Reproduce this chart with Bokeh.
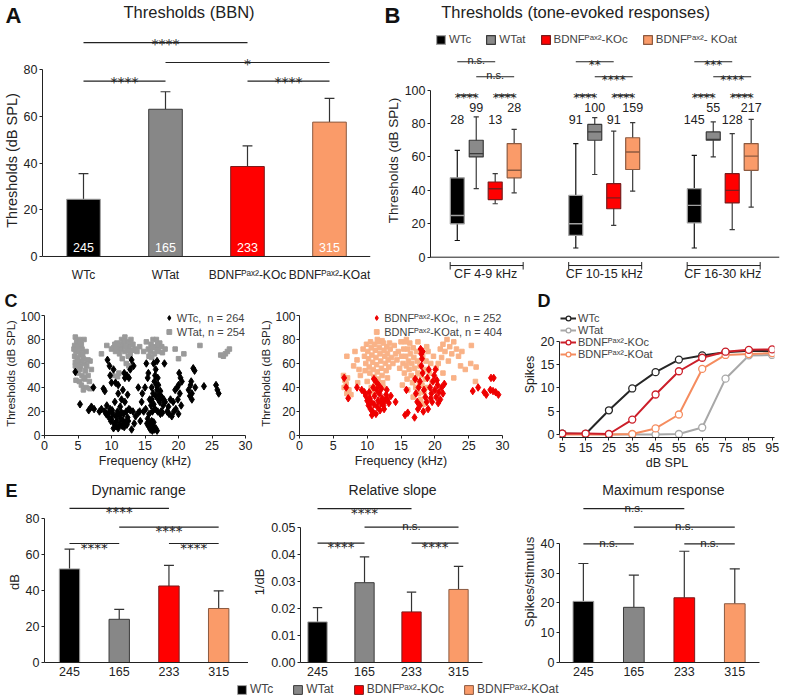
from bokeh.plotting import figure
from bokeh.layouts import column, row
from bokeh.models import (Range1d, FixedTicker, Legend, LegendItem, NumeralTickFormatter)
from bokeh.core.properties import value
from bokeh.embed import file_html
from bokeh.resources import INLINE

FONT = "Liberation Sans"
STAR_FONT = "DejaVu Sans"
SUP = "\u1d3e\u1d43\u02e3\u00b2"

# ---------------- data ----------------
groups = ["WTc", "WTat", "BDNF" + SUP + "-KOc", "BDNF" + SUP + "-KOat"]
group_colors = ["#000000", "#878787", "#ff0000", "#fa9b69"]
edge_colors = ["#a0a0a0", "#3a3a3a", "#7a1c1c", "#8c5a40"]
n_units = [245, 165, 233, 315]
sig_pairs = [(0, 2), (1, 3), (0, 1), (2, 3)]

# A: BBN thresholds
bbn_mean = [24.5, 63.0, 38.5, 57.5]
bbn_err = [35.5, 70.5, 47.3, 67.7]
bbn_sig = ["****", "*", "****", "****"]

# B: tone-evoked thresholds (box plots)
cf_bands = ["CF 4-9 kHz", "CF 10-15 kHz", "CF 16-30 kHz"]
box_low = [[10, 41, 32, 38.5], [5.5, 49.5, 19, 39.5], [5.5, 60, 16.5, 30]]
box_q1 = [[20, 60, 34.5, 47.5], [13, 70, 29, 52.5], [20.5, 70, 32.5, 52]]
box_med = [[25, 62, 41, 52], [20, 75, 35.5, 63], [31, 70.5, 40, 60.5]]
box_q3 = [[47.5, 70, 45, 68], [37, 79.5, 44, 71.5], [41, 75, 50, 68]]
box_high = [[64, 84, 50, 76.5], [68, 83.5, 75.5, 80.5], [61, 81, 74, 82.5]]
box_n = [[28, 99, 13, 28], [91, 100, 91, 159], [145, 55, 128, 217]]
box_sig = [["n.s.", "n.s.", "****", "****"],
           ["**", "****", "****", "****"],
           ["***", "****", "****", "****"]]

# C: threshold vs CF scatter (freq kHz, threshold dB SPL)
wtat_pts = [(4.6,82),(4.8,78),(5.2,80),(4.5,75),(5.0,74),(5.5,76),(4.7,70),(5.1,70),(5.6,72),(4.5,66),
            (4.9,65),(5.4,67),(5.8,64),(4.6,61),(5.0,60),(5.5,62),(6.0,60),(4.8,56),(5.3,55),(6.3,58),
            (6.8,62),(5.0,52),(5.6,50),(6.5,50),(4.7,46),(5.2,45),(6.0,47),(5.5,42),(6.2,40),(6.8,39),
            (5.8,38),(6.2,70),(5.9,80),(6.5,63),(7.0,55),(4.4,72),(4.6,58),(5.3,78),(5.7,68),(6.1,54),
            (6.7,45),(5.9,48),(4.9,62),(5.4,58),
            (8.5,68),(9.3,75),(10.0,72),(10.3,73),(10.8,77),(11.0,72),(11.5,80),(11.8,75),(12.0,70),(12.3,78),
            (12.6,73),(12.9,80),(13.2,76),(11.2,68),(12.0,82),(12.5,66),(13.5,72),(11.6,64),(12.8,68),(10.6,70),
            (13.8,70),(14.2,74),(12.2,60),(13.0,58),(10.2,50),(11.3,76),(11.9,78),(12.4,71),(10.9,74),(12.7,77),
            (13.1,71),(11.4,72),(12.1,74),(10.5,76),(11.1,52),(10.9,49),(12.6,58),
            (15.5,72),(15.9,76),(16.2,80),(16.5,74),(16.8,72),(17.2,77),(15.8,70),(16.4,68),(17.0,70),(17.5,74),
            (16.0,65),(18.0,72),(14.8,70),(15.2,78),(16.7,80),(16.1,73),(16.9,76),(15.6,66),(17.6,69),
            (19.5,72),(20.0,64),(20.8,68),(23.2,75),(26.3,67),(26.7,66),(27.0,68),(27.3,70),(27.6,72)]
wtc_pts = [(4.6,53),(5.3,26),(6.6,21),(7.0,24),(7.4,22),(7.3,40),(8.2,20),(8.8,39),(8.5,22),(9.0,20),
           (9.2,18),(9.5,16),(9.8,22),(9.3,25),(10.0,14),(10.2,18),(10.4,10),(10.6,8),(10.8,12),(11.0,6),
           (11.2,9),(11.4,14),(11.6,8),(11.8,18),(12.0,11),(12.2,20),(12.4,15),(12.6,22),(13.0,5),(13.2,20),
           (13.6,16),(10.9,20),(11.3,24),(9.6,19),(10.5,28),(11.5,19),(12.8,21),(10.1,21),(10.7,16),(11.1,17),
           (11.7,12),(12.3,9),(9.9,12),(10.3,6),(11.9,7),(12.5,12),(13.4,10),(14.0,19),
           (9.4,63),(9.7,58),(9.8,50),(10.3,55),(10.6,44),(11.0,42),(11.0,35),(11.5,30),(12.0,48),(12.3,50),
           (12.6,48),(13.0,63),(13.3,58),(12.0,28),(10.0,44),(11.7,38),(12.4,34),(12.8,55),(9.0,37),(11.9,52),
           (14.2,20),(14.5,28),(14.8,20),(15.0,40),(15.2,60),(15.3,10),(15.5,8),(15.6,18),(15.8,5),(16.0,12),
           (16.2,8),(16.4,5),(16.6,6),(16.8,4),(15.7,10),(16.1,4),(16.3,11),(15.4,14),(16.0,30),(16.2,35),
           (16.4,45),(16.5,50),(16.6,55),(16.7,42),(16.8,38),(17.0,30),(17.2,28),(17.4,20),(16.3,60),(16.9,48),
           (17.1,34),(17.5,32),(17.8,30),(17.9,60),(15.4,48),(15.7,30),(16.1,20),(15.9,25),(16.5,22),(17.3,18),
           (17.7,25),(18.0,28),(14.0,40),(14.6,35),(16.8,62),(15.5,52),(16.0,40),(16.6,33),(17.0,42),(16.3,26),
           (15.1,22),(17.6,19),(16.9,20),(17.3,37),(14.3,12),
           (18.3,20),(18.6,18),(19.0,16),(19.3,20),(18.8,30),(19.5,38),(19.8,40),(20.0,42),(20.1,52),(20.3,48),
           (20.5,45),(20.2,35),(19.6,22),(20.0,18),(19.2,28),(18.5,24),(19.9,30),(20.4,25),
           (21.5,38),(21.8,42),(22.0,35),(22.2,56),(22.4,54),(22.0,30),(21.7,33),(22.5,40),(23.8,41),(25.6,42),
           (25.8,38),(26.0,35),(21.9,45)]
koat_pts = [(6.5,50),(6.7,46),(6.9,43),(7.1,48),(6.6,40),(7.3,38),(7.6,34),(7.0,35),(7.0,66),(8.5,63),
            (8.8,55),(9.0,50),(8.6,44),(8.0,58),
            (9.4,72),(9.6,66),(9.8,60),(9.9,76),(10.1,70),(10.2,64),(10.3,57),(10.4,52),(10.5,78),(10.6,73),
            (10.7,67),(10.8,61),(10.9,55),(11.0,49),(11.1,76),(11.2,71),(11.3,65),(11.4,59),(11.5,53),(11.6,47),
            (11.7,78),(11.8,73),(11.9,68),(12.0,62),(12.1,56),(12.2,50),(12.3,44),(12.4,77),(12.5,71),(12.6,66),
            (12.7,60),(12.8,54),(12.9,74),(13.0,68),(13.1,63),(13.2,57),(13.4,72),(13.6,65),(13.8,60),(10.0,45),
            (10.6,40),(11.2,42),(11.8,38),(12.4,40),(10.8,36),(13.0,48),(9.7,54),(11.5,80),(12.2,79),(13.3,77),
            (14.4,63),(14.6,70),(14.8,56),(15.0,78),(15.1,66),(15.3,60),(15.4,72),(15.5,52),(15.6,78),(15.7,66),
            (15.8,58),(15.9,47),(16.0,72),(16.1,62),(16.2,55),(16.3,77),(16.4,68),(16.5,50),(16.6,60),(16.7,44),
            (16.8,73),(16.9,65),(17.0,56),(17.1,48),(17.2,40),(17.3,70),(17.4,62),(17.5,52),(17.6,35),(17.7,45),
            (17.8,58),(17.9,30),(18.0,50),(18.1,42),(18.2,66),(18.3,26),(18.4,36),(18.5,55),(18.6,47),(18.7,62),
            (18.9,40),(19.0,70),(19.2,52),(19.4,60),(19.6,45),(15.2,42),(16.0,38),(14.2,68),(15.8,80),(17.5,78),
            (18.8,74),(16.8,32),
            (20.5,60),(20.8,72),(21.0,65),(21.2,76),(21.5,70),(21.8,80),(22.0,62),(22.2,74),(22.5,68),(22.8,78),
            (23.2,72),(23.5,66),(23.8,58),(21.2,52),(22.8,48),
            (24.5,55),(25.3,60),(25.4,75),(26.1,57),(26.0,45),(8.2,70),(14.0,75),(19.8,66),(20.2,56),(24.0,70)]
koc_pts = [(6.6,48),(6.9,40),(7.2,31),(8.5,40),(9.2,38),(9.6,36),
           (9.8,33),(10.0,29),(10.2,25),(10.4,31),(10.5,22),(10.6,28),(10.8,20),(11.0,26),(11.1,33),(11.3,18),
           (11.5,24),(11.6,29),(11.8,35),(12.0,27),(12.2,31),(12.4,25),(12.6,29),(12.8,34),(13.0,30),(13.2,27),
           (13.5,33),(10.3,36),(11.4,38),(12.1,39),(12.9,38),(11.9,21),(10.7,17),(14.2,28),(10.9,40),(11.7,42),
           (12.5,22),(11.0,47),(11.3,45),
           (15.8,38),(15.6,17),(16.0,19),(17.0,15),(17.9,72),(18.0,68),(18.1,64),(18.2,70),
           (17.2,35),(17.4,28),(17.6,40),(17.8,45),(17.8,25),(18.0,58),(18.2,52),(18.4,38),(18.6,32),(18.8,28),
           (19.0,22),(19.3,40),(19.5,35),(19.7,45),(19.9,50),(20.0,38),(20.2,32),(20.4,42),(20.6,36),(20.8,30),
           (21.0,40),(21.2,35),(19.6,28),(20.1,55),(18.9,48),(17.5,22),(17.1,47),(18.3,20),(19.1,55),(20.3,46),
           (20.5,27),(19.4,31),(21.4,43),
           (25.6,37),(26.4,40),(27.3,36),(27.6,34),(28.3,48),(28.7,48),(28.2,38),(28.6,37),(29.0,36),(29.4,34)]
c_labels = ["WTc,  n = 264", "WTat, n = 254",
            "BDNF" + SUP + "-KOc,  n = 252", "BDNF" + SUP + "-KOat, n = 404"]

# D: rate-level functions
db_spl = [5, 15, 25, 35, 45, 55, 65, 75, 85, 95]
spk_wtc = [0.2, 0.1, 5.2, 9.9, 13.4, 16.1, 17.0, 17.7, 18.0, 17.9]
spk_wtat = [0.1, 0.1, 0.0, 0.0, 0.0, 0.1, 1.5, 12.0, 17.0, 17.1]
spk_koc = [0.2, 0.2, 0.1, 3.2, 8.6, 13.6, 16.5, 17.8, 18.2, 18.3]
spk_koat = [0.0, 0.0, 0.0, 0.1, 1.3, 4.3, 14.1, 17.1, 17.3, 17.5]
line_colors = ["#262626", "#a8a8a8", "#cc1f2a", "#f58c5f"]

# E: dynamic range, relative slope, maximum response
dr_mean = [52, 24, 42.5, 30]
dr_err = [63, 29.5, 54, 39.8]
dr_sig = ["****", "****", "****", "****"]
slope_mean = [0.015, 0.0295, 0.0187, 0.027]
slope_err = [0.0203, 0.039, 0.026, 0.0355]
slope_sig = ["****", "n.s.", "****", "****"]
maxr_mean = [20.5, 18.5, 21.7, 19.7]
maxr_err = [33.2, 29.3, 37.3, 31.4]
maxr_sig = ["n.s.", "n.s.", "n.s.", "n.s."]


# ---------------- helpers ----------------
def mkfig(w, h, xr, yr, l, r, t, b, xloc="below", yloc="left"):
    p = figure(width=w, height=h, x_range=xr, y_range=yr, output_backend="svg",
               toolbar_location=None, min_border_left=l, min_border_right=r,
               min_border_top=t, min_border_bottom=b,
               x_axis_location=xloc, y_axis_location=yloc)
    p.outline_line_color = None
    p.grid.visible = False
    p.background_fill_color = "white"
    p.border_fill_color = "white"
    return p


def strip_fig(w, h, xr, l, r, letter=None, standoff=0, size="22px", tick_y=10):
    # header strip above a panel: same x range as the panel, y in pixels from the top.
    # The panel letter is the single tick label of the strip's left axis.
    p = mkfig(w, h, xr, Range1d(h, 0), l, r, 0, 0, xloc=None,
              yloc="left" if letter else None)
    if letter:
        ax = p.yaxis[0]
        ax.ticker = FixedTicker(ticks=[tick_y])
        ax.major_label_overrides = {tick_y: letter}
        ax.axis_line_color = None
        ax.major_tick_line_color = None
        ax.minor_tick_line_color = None
        ax.major_tick_out = 0
        ax.major_tick_in = 0
        ax.major_label_text_font = FONT
        ax.major_label_text_font_size = size
        ax.major_label_text_font_style = "bold"
        ax.major_label_text_color = "#111111"
        ax.major_label_standoff = standoff
    return p


def style_axis(ax, tick_size="13px", label_size="13px", ticks=True):
    ax.axis_line_color = "#222222"
    ax.axis_line_width = 1
    ax.major_tick_line_color = "#222222" if ticks else None
    ax.major_tick_out = 3 if ticks else 0
    ax.major_tick_in = 0
    ax.minor_tick_line_color = None
    ax.major_label_text_font = FONT
    ax.major_label_text_font_size = tick_size
    ax.major_label_text_color = "#222222"
    ax.major_label_standoff = 2
    ax.axis_label_text_font = FONT
    ax.axis_label_text_font_style = "normal"
    ax.axis_label_text_font_size = label_size
    ax.axis_label_text_color = "#222222"
    ax.axis_label_standoff = 1


def txt(p, x, y, s, size, color="#222222", align="center", baseline="middle",
        font=FONT, yoff=0):
    p.text(x=x, y=y, text=s, text_font=value(font), text_font_size=size,
           text_color=color, text_align=align, text_baseline=baseline, y_offset=yoff)


def draw_sig(p, xs, heights, labels, star_size, ns_size, star_off=1, ns_off=-2):
    x0 = [xs[a] for a, b in sig_pairs]
    x1 = [xs[b] for a, b in sig_pairs]
    p.segment(x0=x0, y0=heights, x1=x1, y1=heights, line_color="#222222", line_width=1.2)
    for xa, xb, hy, lab in zip(x0, x1, heights, labels):
        if "*" in lab:
            txt(p, [(xa + xb) / 2], [hy], [lab], star_size, baseline="alphabetic",
                font=STAR_FONT, yoff=star_off)
        else:
            txt(p, [(xa + xb) / 2], [hy], [lab], ns_size, baseline="alphabetic", yoff=ns_off)


def draw_bars(p, means, errs, width, capw):
    xs = [i + 1 for i in range(len(means))]
    p.segment(x0=xs, y0=means, x1=xs, y1=errs, line_color="#333333", line_width=1.2)
    p.segment(x0=[x - capw for x in xs], y0=errs, x1=[x + capw for x in xs], y1=errs,
              line_color="#333333", line_width=1.2)
    p.vbar(x=xs, top=means, width=width, fill_color=group_colors,
           line_color=edge_colors, line_width=1)
    return xs


# ---------------- Panel A ----------------
A_L, A_R = 41, 10
ax0, ax1 = 0.5, 4.5
topA = strip_fig(380, 30, Range1d(ax0, ax1), A_L, A_R, letter="A", standoff=21, size="22px", tick_y=10)
txt(topA, [2.287], [11.5], ["Thresholds (BBN)"], "16.5px")

pa = mkfig(380, 260, Range1d(ax0, ax1), Range1d(-14.55, 96.7), A_L, A_R, 0, 0, xloc=None)
xa = draw_bars(pa, bbn_mean, bbn_err, 0.41, 0.06)
pa.segment(x0=[ax0], y0=[0], x1=[ax1], y1=[0], line_color="#222222", line_width=1)
txt(pa, xa, [4] * 4, [str(v) for v in n_units], "12.5px", color="white")
txt(pa, xa, [-8.1] * 4, groups, "12px")
draw_sig(pa, xa, [91.5, 83, 75, 75], bbn_sig, "14px", "12px", star_off=1)
pa.yaxis.ticker = FixedTicker(ticks=[0, 20, 40, 60, 80])
pa.yaxis.bounds = (0, 80)
pa.yaxis.axis_label = "Thresholds (dB SPL)"
style_axis(pa.yaxis, "12.5px", "14.5px")

# ---------------- Panel B ----------------
B_W, B_L, B_R = 406, 50, 7
bx0, bx1 = -0.466, 2.479
topB = strip_fig(B_W, 30, Range1d(bx0, bx1), B_L, B_R, letter="B", standoff=30, size="22px", tick_y=10)
txt(topB, [0.758], [11.5], ["Thresholds (tone-evoked responses)"], "16.5px")

pb = mkfig(B_W, 260, Range1d(bx0, bx1), Range1d(-19.94, 135.7), B_L, B_R, 0, 0, xloc=None)
pb.yaxis.ticker = FixedTicker(ticks=[0, 20, 40, 60, 80, 100])
pb.yaxis.bounds = (0, 100)
pb.yaxis.axis_label = "Thresholds (dB SPL)"
style_axis(pb.yaxis, "12.5px", "13.5px")
pb.segment(x0=[bx0], y0=[0], x1=[bx1], y1=[0], line_color="#222222", line_width=1)

off, bw, cap = 0.16, 0.118, 0.022
box_edge = ["#a0a0a0", "#3a3a3a", "#7a1c1c", "#8c5a40"]
whisk = ["#111111", "#3a3a3a", "#3a3a3a", "#3a3a3a"]
box_fill = ["#000000", "#8a8a8a", "#ff0000", "#fa9b69"]
b_rends = []
for s in range(4):
    xs = [g + (s - 1.5) * off for g in range(3)]
    lo = [box_low[g][s] for g in range(3)]
    hi = [box_high[g][s] for g in range(3)]
    pb.segment(x0=xs, y0=lo, x1=xs, y1=hi, line_color=whisk[s], line_width=1.2)
    pb.segment(x0=[x - cap for x in xs], y0=lo, x1=[x + cap for x in xs], y1=lo,
               line_color=whisk[s], line_width=1.2)
    pb.segment(x0=[x - cap for x in xs], y0=hi, x1=[x + cap for x in xs], y1=hi,
               line_color=whisk[s], line_width=1.2)
    r = pb.vbar(x=xs, bottom=[box_q1[g][s] for g in range(3)], top=[box_q3[g][s] for g in range(3)],
                width=bw, fill_color=box_fill[s], line_color=box_edge[s], line_width=1.2)
    b_rends.append(r)
    pb.segment(x0=[x - bw / 2 for x in xs], y0=[box_med[g][s] for g in range(3)],
               x1=[x + bw / 2 for x in xs], y1=[box_med[g][s] for g in range(3)],
               line_color=box_edge[s], line_width=1.4)
    txt(pb, xs, [82.5 if s % 2 == 0 else 89.5] * 3, [str(box_n[g][s]) for g in range(3)], "12.5px")
for g in range(3):
    xs = [g + (s - 1.5) * off for s in range(4)]
    draw_sig(pb, xs, [117, 108, 97, 97], box_sig[g], "12px", "11px", star_off=3, ns_off=-2)
    pb.segment(x0=[g - 0.30], y0=[-5], x1=[g + 0.316], y1=[-5], line_color="#222222", line_width=1)
    pb.segment(x0=[g - 0.30, g + 0.316], y0=[-2.9, -2.9], x1=[g - 0.30, g + 0.316], y1=[-7.4, -7.4],
               line_color="#222222", line_width=1)
    txt(pb, [g], [-10.1], [cf_bands[g]], "12.5px")
legB = Legend(items=[LegendItem(label=lab, renderers=[r]) for lab, r in
                     zip(["WTc", "WTat", groups[2], "BDNF" + SUP + "- KOat"], b_rends)],
              orientation="horizontal", location=(5, 245), label_text_font=FONT,
              label_text_font_size="11.5px", glyph_width=11, glyph_height=11, label_height=12,
              label_standoff=3, spacing=14, padding=0, margin=0, border_line_color=None,
              background_fill_alpha=0)
pb.add_layout(legB)

# ---------------- Panel C ----------------
C_TOP, C_H, C_B = 21, 169, 45


def c_panel(w, l, r, pts_back, pts_front, back_col, front_col, labels):
    p = mkfig(w, C_H, Range1d(0, 30), Range1d(0, 103.3), l, r, 0, C_B)
    rb = p.scatter([a for a, b in pts_back], [b for a, b in pts_back], marker="square",
                   size=4.5, color=back_col)
    rf = p.scatter([a for a, b in pts_front], [b for a, b in pts_front], marker="diamond",
                   size=7.5, color=front_col)
    p.xaxis.ticker = FixedTicker(ticks=[0, 5, 10, 15, 20, 25, 30])
    p.yaxis.ticker = FixedTicker(ticks=[0, 20, 40, 60, 80, 100])
    p.yaxis.bounds = (0, 100)
    p.xaxis.axis_label = "Frequency (kHz)"
    p.yaxis.axis_label = "Thresholds (dB SPL)"
    style_axis(p.xaxis, "12.5px", "12.5px")
    style_axis(p.yaxis, "12px", "11.5px")
    p.yaxis.axis_label_standoff = 0
    p.yaxis.major_label_standoff = 1
    leg = Legend(items=[LegendItem(label=labels[0], renderers=[rf]),
                        LegendItem(label=labels[1], renderers=[rb])],
                 location="top_right", label_text_font=FONT, label_text_font_size="11px",
                 glyph_width=12, glyph_height=13, label_height=13, label_standoff=2,
                 spacing=1, padding=0, margin=0, border_line_color=None,
                 background_fill_alpha=0)
    p.add_layout(leg)
    return p


topC1 = strip_fig(254, C_TOP, Range1d(0, 30), 44, 9, letter="C", standoff=27, size="18px", tick_y=10)
c1 = c_panel(254, 44, 9, wtat_pts, wtc_pts, "#9a9a9a", "#000000", c_labels[0:2])
topC2 = strip_fig(257, C_TOP, Range1d(0, 30), 45, 9)
c2 = c_panel(257, 45, 9, koat_pts, koc_pts, "#f9b287", "#ee0000", c_labels[2:4])

# ---------------- Panel D ----------------
dx = Range1d(3.8, 96.0)
topD = strip_fig(275, C_TOP, dx, 48, 12, letter="D", standoff=9, size="18px", tick_y=10)
pd_ = mkfig(275, C_H, dx, Range1d(-0.65, 26.45), 48, 12, 0, 43)
d_items = []
for lab, ys, c in [("WTc", spk_wtc, line_colors[0]), ("WTat", spk_wtat, line_colors[1]),
                   ("BDNF" + SUP + "-KOat", spk_koat, line_colors[3]),
                   ("BDNF" + SUP + "-KOc", spk_koc, line_colors[2])]:
    rl = pd_.line(db_spl, ys, line_color=c, line_width=2)
    rc = pd_.scatter(db_spl, ys, marker="circle", size=7, fill_color="white",
                     line_color=c, line_width=1.3)
    d_items.append(LegendItem(label=lab, renderers=[rl, rc]))
d_items = [d_items[0], d_items[1], d_items[3], d_items[2]]
pd_.xaxis.ticker = FixedTicker(ticks=db_spl)
pd_.yaxis.ticker = FixedTicker(ticks=[0, 5, 10, 15, 20])
pd_.yaxis.bounds = (0, 20)
pd_.xaxis.axis_label = "dB SPL"
pd_.yaxis.axis_label = "Spikes"
style_axis(pd_.xaxis, "12.5px", "12.5px")
style_axis(pd_.yaxis, "12.5px", "12.5px")
legD = Legend(items=d_items, location="top_left", label_text_font=FONT,
              label_text_font_size="11px", glyph_width=16, glyph_height=12, label_height=12,
              label_standoff=2, spacing=0, padding=0, margin=1, border_line_color=None,
              background_fill_alpha=0)
pd_.add_layout(legD)

# ---------------- Panel E ----------------
E_TOP, E_H, E_B = 21, 181, 20


def e_panel(w, l, r, xr, yr, means, errs, sig, sig_h, ylabel, yticks, ybound, fmt=None):
    p = mkfig(w, E_H, xr, Range1d(*yr), l, r, 0, E_B)
    xs = draw_bars(p, means, errs, 0.41, 0.1)
    draw_sig(p, xs, sig_h, sig, "13.5px", "11.5px", star_off=4, ns_off=-1)
    p.xaxis.ticker = FixedTicker(ticks=xs)
    p.xaxis.major_label_overrides = {x: str(n) for x, n in zip(xs, n_units)}
    p.yaxis.ticker = FixedTicker(ticks=yticks)
    p.yaxis.bounds = ybound
    p.yaxis.axis_label = ylabel
    if fmt:
        p.yaxis.formatter = NumeralTickFormatter(format=fmt)
    style_axis(p.xaxis, "12.5px", "13px", ticks=False)
    style_axis(p.yaxis, "12.5px", "13px")
    p.xaxis.major_label_standoff = 4
    return p


e1x = Range1d(0.497, 4.60)
topE1 = strip_fig(248, E_TOP, e1x, 44, 0, letter="E", standoff=27, size="18px", tick_y=10)
txt(topE1, [2.39], [9], ["Dynamic range"], "14px")
e1 = e_panel(248, 44, 0, e1x, (0, 89.44), dr_mean, dr_err, dr_sig, [85.6, 75.2, 66.1, 66.1],
             "dB", [0, 20, 40, 60, 80], (0, 80))
e2x = Range1d(0.638, 4.51)
topE2 = strip_fig(252, E_TOP, e2x, 52, 18)
txt(topE2, [2.595], [9], ["Relative slope"], "14px")
e2 = e_panel(252, 52, 18, e2x, (0, 0.0595), slope_mean, slope_err, slope_sig,
             [0.0569, 0.050, 0.0441, 0.0441], "1/dB", [0, 0.01, 0.02, 0.03, 0.04, 0.05], (0, 0.05),
             fmt="0.00")
e3x = Range1d(0.527, 4.49)
topE3 = strip_fig(286, E_TOP, e3x, 59, 27)
txt(topE3, [2.586], [9], ["Maximum response"], "14px")
e3 = e_panel(286, 59, 27, e3x, (0, 53.98), maxr_mean, maxr_err, maxr_sig,
             [51.6, 45.4, 39.8, 39.8], "Spikes/stimulus", [0, 10, 20, 30, 40], (0, 40))

# ---------------- bottom legend ----------------
lg = mkfig(786, 16, Range1d(0, 1), Range1d(0, 1), 0, 0, 0, 0, xloc=None, yloc=None)
lg_r = [lg.vbar(x=[5], top=[0.5], width=0.1, fill_color=c, line_color=e)
        for c, e in zip(group_colors, edge_colors)]
legE = Legend(items=[LegendItem(label=g, renderers=[r]) for g, r in zip(groups, lg_r)],
              orientation="horizontal", location=(236, 2), label_text_font=FONT,
              label_text_font_size="12px", glyph_width=11, glyph_height=11, label_height=13,
              label_standoff=3, spacing=19, padding=0, margin=0, border_line_color=None,
              background_fill_alpha=0)
lg.add_layout(legE)

layout = column(
    row(column(topA, pa, spacing=0), column(topB, pb, spacing=0), spacing=0),
    row(column(topC1, c1, spacing=0), column(topC2, c2, spacing=0),
        column(topD, pd_, spacing=0), spacing=0),
    row(column(topE1, e1, spacing=0), column(topE2, e2, spacing=0),
        column(topE3, e3, spacing=0), spacing=0),
    lg, spacing=0)
open("out.html", "w").write(file_html(layout, INLINE))
